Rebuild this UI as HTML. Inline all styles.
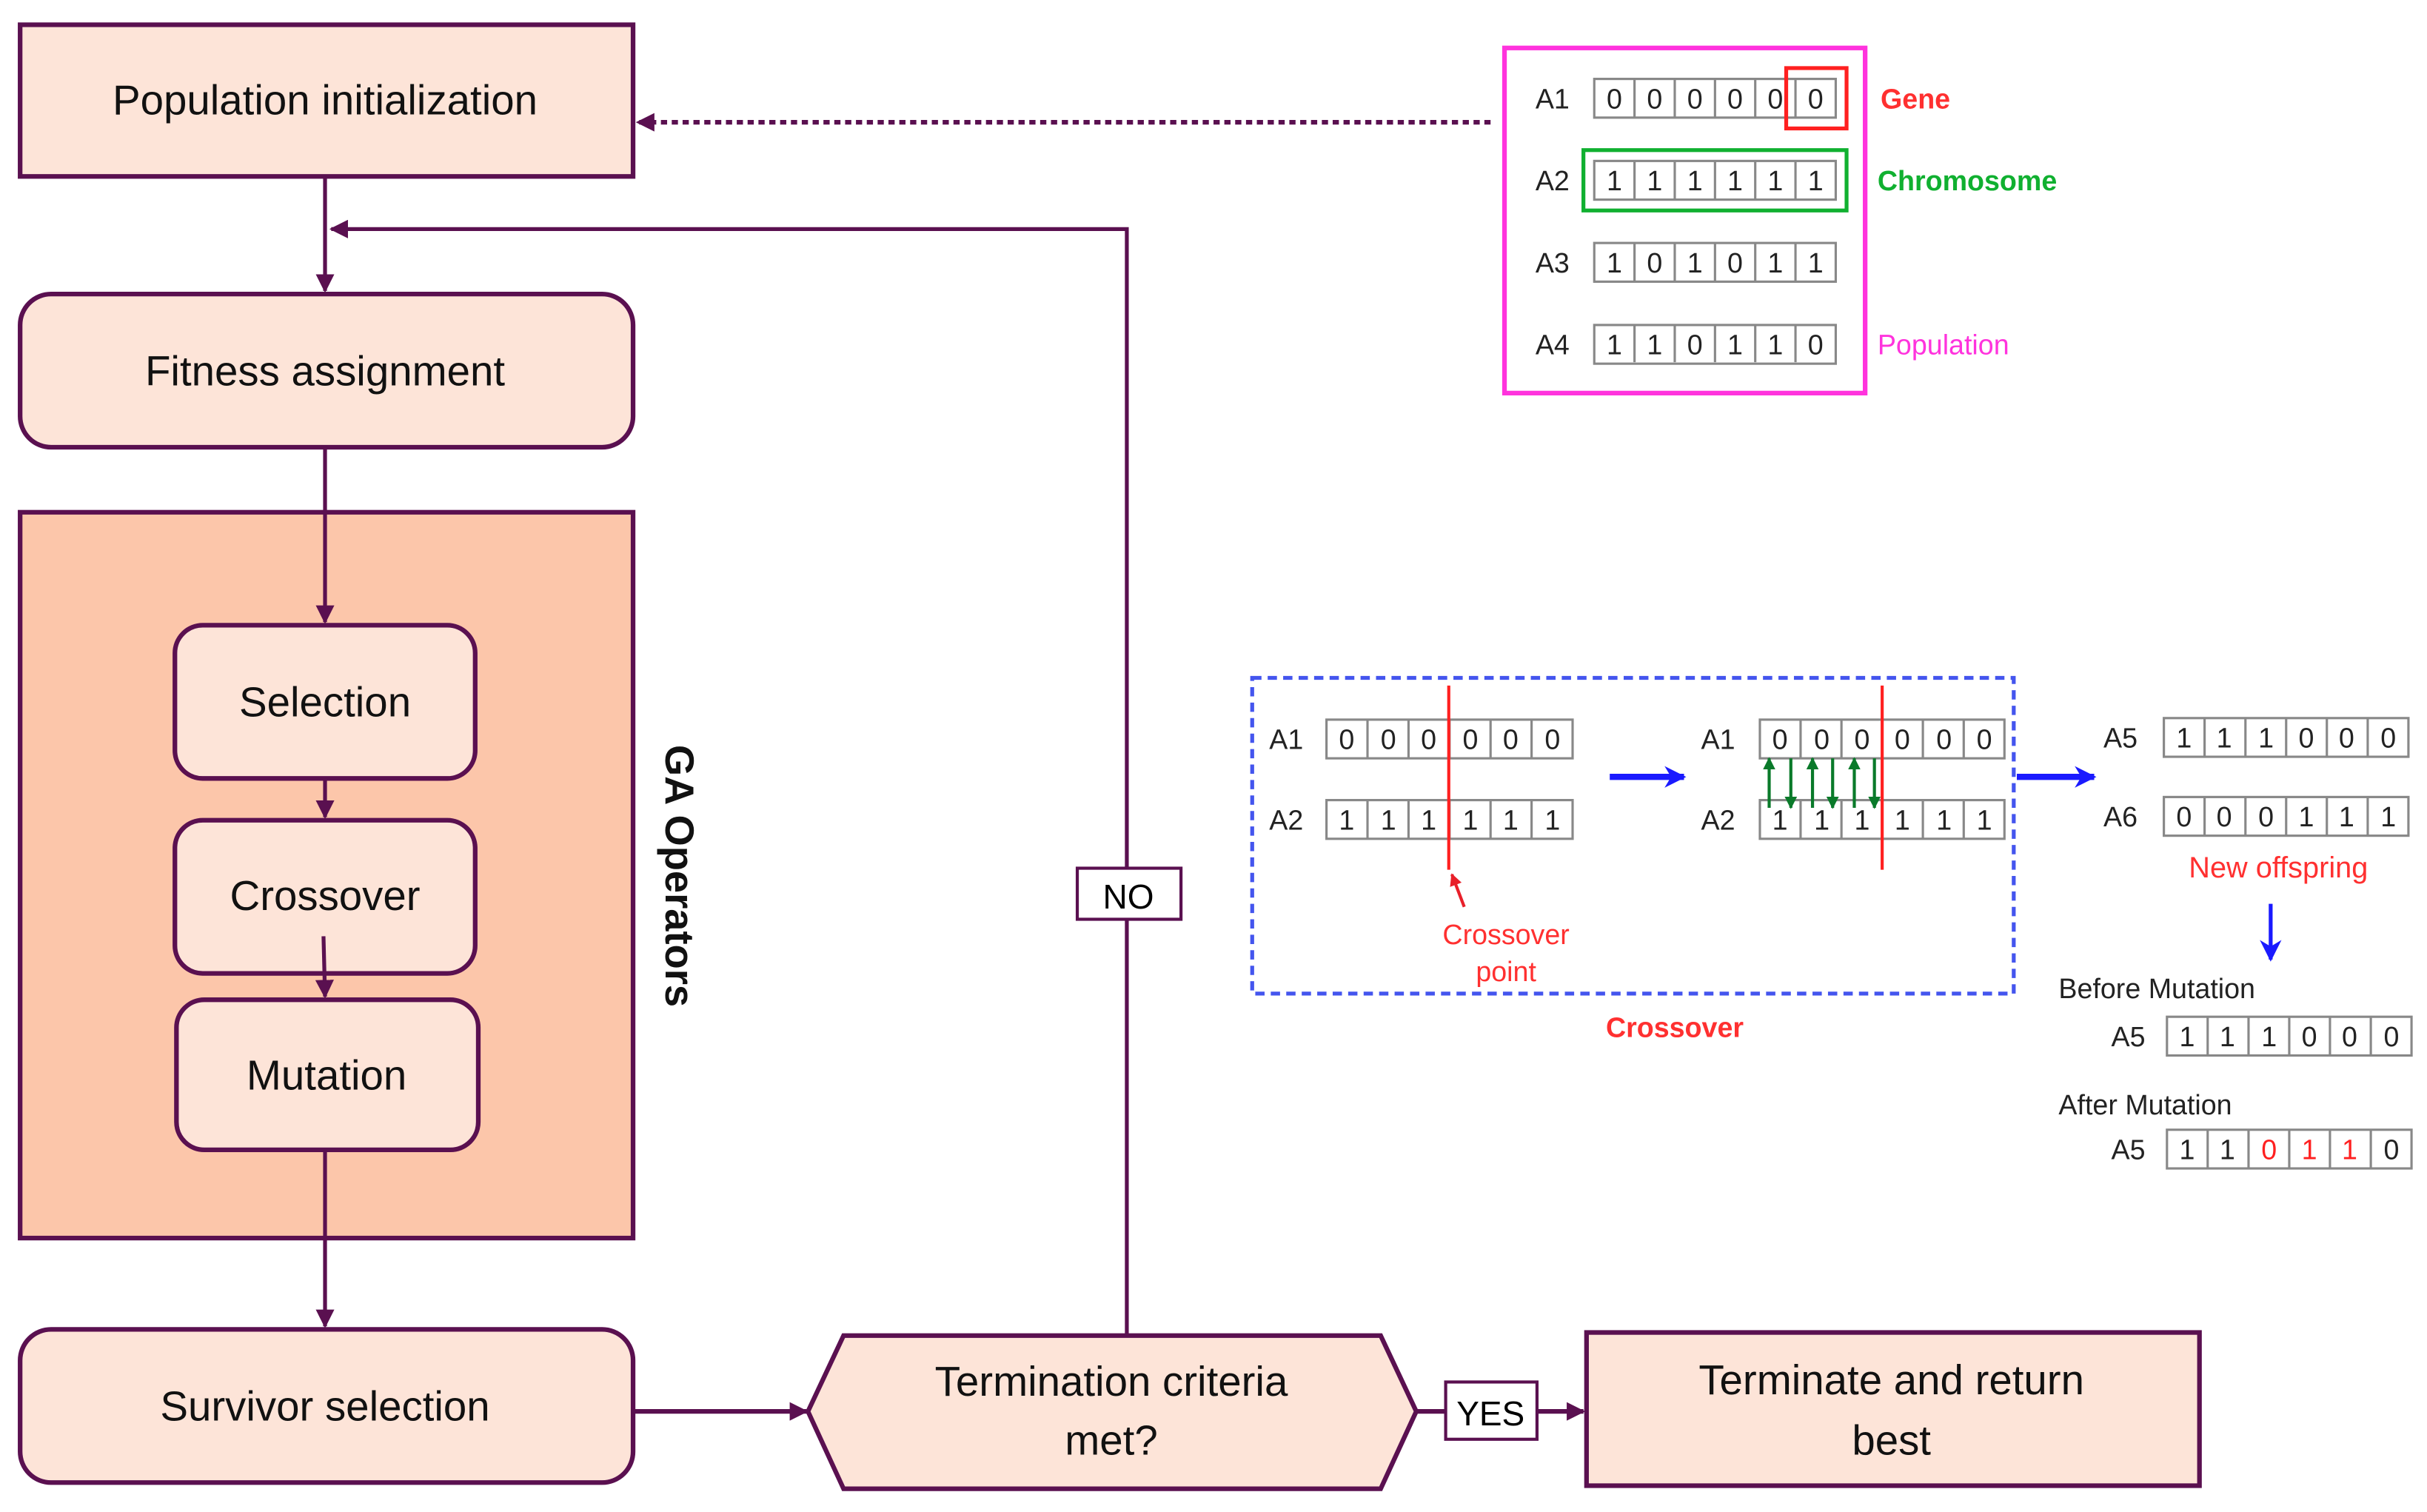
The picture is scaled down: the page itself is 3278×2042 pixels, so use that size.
<!DOCTYPE html>
<html><head><meta charset="utf-8"><style>
html,body{margin:0;padding:0;background:#fff;width:3278px;height:2042px;overflow:hidden}
svg{display:block}
text{font-family:"Liberation Sans",sans-serif}
</style></head><body>
<svg width="3278" height="2042" viewBox="0 0 1568 977" preserveAspectRatio="none" xmlns="http://www.w3.org/2000/svg">
<defs>
<marker id="ah" viewBox="0 0 10 10" refX="9" refY="5" markerWidth="5" markerHeight="5" orient="auto" markerUnits="userSpaceOnUse"><path d="M0,0L10,5L0,10z" fill="#5a1050"/></marker>
<marker id="ahp" viewBox="0 0 10 10" refX="9" refY="5" markerWidth="12" markerHeight="12" orient="auto" markerUnits="userSpaceOnUse"><path d="M0,0L10,5L0,10z" fill="#5a1050"/></marker>
<marker id="ahb" viewBox="0 0 10 10" refX="9" refY="5" markerWidth="14" markerHeight="14" orient="auto" markerUnits="userSpaceOnUse"><path d="M0,0L10,5L0,10L3,5z" fill="#1a1aff"/></marker>
<marker id="ahg" viewBox="0 0 10 10" refX="9" refY="5" markerWidth="8" markerHeight="8" orient="auto" markerUnits="userSpaceOnUse"><path d="M0,0L10,5L0,10z" fill="#0a7a2a"/></marker>
<marker id="ahr" viewBox="0 0 10 10" refX="9" refY="5" markerWidth="8" markerHeight="8" orient="auto" markerUnits="userSpaceOnUse"><path d="M0,0L10,5L0,10z" fill="#e8202a"/></marker>
</defs>

<!-- left flow -->
<g stroke="#5a1050" stroke-width="3" fill="#fde4d8">
<rect x="13" y="16" width="396" height="98"/>
<rect x="13" y="190" width="396" height="99" rx="20"/>
<rect x="13" y="331" width="396" height="469" fill="#fcc6aa"/>
<rect x="113" y="404" width="194" height="99" rx="18"/>
<rect x="113" y="530" width="194" height="99" rx="18"/>
<rect x="114" y="646" width="195" height="97" rx="18"/>
<rect x="13" y="859" width="396" height="99" rx="20"/>
<polygon points="522,912 545,863 892,863 915,912 892,962 545,962"/>
<rect x="1025" y="861" width="396" height="99"/>
</g>

<g stroke="#5a1050" stroke-width="2.5" fill="none">
<line x1="210" y1="114" x2="210" y2="188" marker-end="url(#ahp)"/>
<path d="M728,862 V148 H214" marker-end="url(#ahp)"/>
<line x1="210" y1="289" x2="210" y2="402" marker-end="url(#ahp)"/>
<line x1="210" y1="503" x2="210" y2="528" marker-end="url(#ahp)"/>
<line x1="209" y1="605" x2="210" y2="644" marker-end="url(#ahp)"/>
<line x1="210" y1="743" x2="210" y2="857" marker-end="url(#ahp)"/>
<line x1="409" y1="912" x2="521" y2="912" marker-end="url(#ahp)" stroke-width="3"/>
<line x1="915" y1="912" x2="1023" y2="912" marker-end="url(#ahp)" stroke-width="3"/>
<line x1="963" y1="79" x2="412" y2="79" stroke-dasharray="4,3" stroke-width="3" marker-end="url(#ahp)"/>
</g>
<rect x="696" y="561" width="67" height="33" fill="#fff" stroke="#5a1050" stroke-width="2"/>
<text x="729" y="587" font-size="22" text-anchor="middle">NO</text>
<rect x="934" y="893" width="59" height="37" fill="#fff" stroke="#5a1050" stroke-width="2"/>
<text x="963" y="921" font-size="22" text-anchor="middle">YES</text>

<g font-size="27" text-anchor="middle" fill="#111">
<text x="210" y="74">Population initialization</text>
<text x="210" y="249">Fitness assignment</text>
<text x="210" y="463">Selection</text>
<text x="210" y="588">Crossover</text>
<text x="211" y="704">Mutation</text>
<text x="210" y="918">Survivor selection</text>
<text x="718" y="902">Termination criteria</text>
<text x="718" y="940">met?</text>
<text x="1222" y="901">Terminate and return</text>
<text x="1222" y="940">best</text>
</g>
<text transform="translate(430,566) rotate(90)" font-size="26" font-weight="bold" text-anchor="middle" fill="#111">GA Operators</text>

<!-- population panel -->
<rect x="972" y="31" width="233" height="223" fill="none" stroke="#ff33dd" stroke-width="3"/>
<g fill="#fff" stroke="#888" stroke-width="1.5">
<rect x="1030" y="51" width="156" height="25"/><rect x="1030" y="104" width="156" height="25"/>
<rect x="1030" y="157" width="156" height="25"/><rect x="1030" y="210" width="156" height="25"/>
<rect x="857" y="465" width="159" height="25"/><rect x="857" y="517" width="159" height="25"/>
<rect x="1137" y="465" width="158" height="25"/><rect x="1137" y="517" width="158" height="25"/>
<rect x="1398" y="464" width="158" height="25"/><rect x="1398" y="515" width="158" height="25"/>
<rect x="1400" y="657" width="158" height="25"/><rect x="1400" y="730" width="158" height="25"/>
</g>
<g stroke="#888" stroke-width="1.5" fill="none">
<path d="M1056,51v183M1082,51v183M1108,51v183M1134,51v183M1160,51v183" stroke-dasharray="25,28"/>
<path d="M883.5,465v77M910,465v77M936.5,465v77M963,465v77M989.5,465v77" stroke-dasharray="25,27"/>
<path d="M1163.3,465v77M1189.7,465v77M1216,465v77M1242.3,465v77M1268.7,465v77" stroke-dasharray="25,27"/>
<path d="M1424.3,464v76M1450.7,464v76M1477,464v76M1503.3,464v76M1529.7,464v76" stroke-dasharray="25,26"/>
<path d="M1426.3,657v98M1452.7,657v98M1479,657v98M1505.3,657v98M1531.7,657v98" stroke-dasharray="25,48"/>
</g>
<rect x="1154" y="44" width="39" height="39" fill="none" stroke="#ff2020" stroke-width="2.5"/>
<rect x="1023" y="97" width="170" height="39" fill="none" stroke="#10b030" stroke-width="2.5"/>
<g font-size="18" fill="#222" text-anchor="middle">
<text x="1003" y="70">A1</text><text x="1003" y="123">A2</text><text x="1003" y="176">A3</text><text x="1003" y="229">A4</text>
<text x="1043 1069 1095 1121 1147 1173" y="70">000000</text>
<text x="1043 1069 1095 1121 1147 1173" y="123">111111</text>
<text x="1043 1069 1095 1121 1147 1173" y="176">101011</text>
<text x="1043 1069 1095 1121 1147 1173" y="229">110110</text>
<text x="831" y="484">A1</text><text x="831" y="536">A2</text>
<text x="870 897 923 950 976 1003" y="484">000000</text>
<text x="870 897 923 950 976 1003" y="536">111111</text>
<text x="1110" y="484">A1</text><text x="1110" y="536">A2</text>
<text x="1150 1177 1203 1229 1256 1282" y="484">000000</text>
<text x="1150 1177 1203 1229 1256 1282" y="536">111111</text>
<text x="1370" y="483">A5</text><text x="1370" y="534">A6</text>
<text x="1411 1437 1464 1490 1516 1543" y="483">111000</text>
<text x="1411 1437 1464 1490 1516 1543" y="534">000111</text>
<text x="1375" y="676">A5</text><text x="1375" y="749">A5</text>
<text x="1413 1439 1466 1492 1518 1545" y="676">111000</text>
<text x="1413 1439 1466 1492 1518 1545" y="749">11<tspan fill="#ff2020">011</tspan>0</text>
</g>
<text x="1215" y="70" font-size="18" fill="#ff3030" font-weight="bold">Gene</text>
<text x="1213" y="123" font-size="18" fill="#10b030" font-weight="bold">Chromosome</text>
<text x="1213" y="229" font-size="18" fill="#ff33dd">Population</text>

<!-- crossover panel -->
<rect x="809" y="438" width="492" height="204" fill="none" stroke="#4455ee" stroke-width="2.5" stroke-dasharray="6,4"/>
<line x1="936" y1="443" x2="936" y2="562" stroke="#ff2020" stroke-width="2"/>
<line x1="1216" y1="443" x2="1216" y2="562" stroke="#ff2020" stroke-width="2"/>
<line x1="946" y1="586" x2="938" y2="565" stroke="#e8202a" stroke-width="2" marker-end="url(#ahr)"/>
<g stroke="#0a7a2a" stroke-width="2">
<line x1="1143" y1="522" x2="1143" y2="490" marker-end="url(#ahg)"/>
<line x1="1157" y1="490" x2="1157" y2="522" marker-end="url(#ahg)"/>
<line x1="1171" y1="522" x2="1171" y2="490" marker-end="url(#ahg)"/>
<line x1="1184" y1="490" x2="1184" y2="522" marker-end="url(#ahg)"/>
<line x1="1198" y1="522" x2="1198" y2="490" marker-end="url(#ahg)"/>
<line x1="1211" y1="490" x2="1211" y2="522" marker-end="url(#ahg)"/>
</g>
<g stroke="#1a1aff" stroke-width="4">
<line x1="1040" y1="502" x2="1088" y2="502" marker-end="url(#ahb)"/>
<line x1="1303" y1="502" x2="1353" y2="502" marker-end="url(#ahb)"/>
<line x1="1467" y1="584" x2="1467" y2="620" stroke-width="2.5" marker-end="url(#ahb)"/>
</g>
<g fill="#ff3030" text-anchor="middle">
<text x="973" y="610" font-size="18">Crossover</text>
<text x="973" y="634" font-size="18">point</text>
<text x="1472" y="567" font-size="19" font-family="Liberation Serif,serif">New offspring</text>
<text x="1082" y="670" font-size="18" font-weight="bold" font-family="Liberation Serif,serif">Crossover</text>
</g>
<text x="1330" y="645" font-size="18" fill="#222">Before Mutation</text>
<text x="1330" y="720" font-size="18" fill="#222">After Mutation</text>
</svg>
</body></html>
